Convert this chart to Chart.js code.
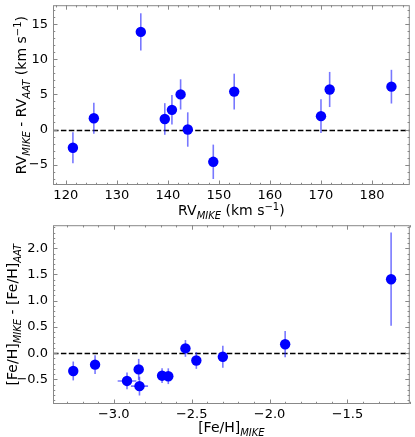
<!DOCTYPE html>
<html>
<head>
<meta charset="utf-8">
<script src="https://cdn.jsdelivr.net/npm/chart.js@4.4.1/dist/chart.umd.min.js"></script>
<style>
  body { margin: 0; background: #fff; }
  #wrap { position: relative; width: 415px; height: 437px; }
  canvas { position: absolute; left: 0; }
</style>
</head>
<body>
<div id="wrap">
  <canvas id="rvChart" width="415" height="220" style="top:0"></canvas>
  <canvas id="fehChart" width="415" height="217" style="top:220px"></canvas>
</div>
<script>
// --- DATA ---
// top panel: radial velocities
const rvMike     = [121.4, 125.5, 134.7, 139.4, 140.8, 142.5, 143.9, 148.9, 153.0, 170.0, 171.7, 183.8];
const rvDiff     = [-2.6, 1.6, 13.9, 1.5, 2.8, 5.0, 0.0, -4.6, 5.4, 1.9, 5.7, 6.1];
const rvDiffErr  = [2.2, 2.2, 2.65, 2.25, 2.1, 2.15, 2.45, 2.45, 2.55, 2.4, 2.5, 2.4];
const rvTicksX   = [120, 130, 140, 150, 160, 170, 180];
const rvTicksY   = [-5, 0, 5, 10, 15];

// bottom panel: metallicities
const fehMike    = [-3.26, -3.12, -2.915, -2.84, -2.835, -2.69, -2.65, -2.54, -2.47, -2.30, -1.90, -1.22];
const fehMikeErr = [0, 0, 0.06, 0, 0.055, 0, 0, 0, 0, 0, 0, 0];
const fehDiff    = [-0.34, -0.22, -0.53, -0.31, -0.63, -0.43, -0.44, 0.09, -0.14, -0.07, 0.17, 1.41];
const fehDiffErr = [0.18, 0.18, 0.16, 0.2, 0.18, 0.14, 0.15, 0.16, 0.16, 0.21, 0.25, 0.89];
const fehTicksX  = [-3.0, -2.5, -2.0, -1.5];
const fehTicksY  = [-0.5, 0.0, 0.5, 1.0, 1.5, 2.0];

const FONT = "'DejaVu Sans', sans-serif";
const fmt = (v, d) => v.toFixed(d).replace('-', '\u2212');

// draws a run of text pieces with sub/superscripts, centred on cx
function drawRich(ctx, parts, cx, baseline) {
    const setFont = p => {
        if (p[1] === 'sub') ctx.font = 'italic 10px ' + FONT;
        else if (p[1] === 'sup') ctx.font = '10px ' + FONT;
        else ctx.font = '14px ' + FONT;
    };
    let total = 0;
    parts.forEach(p => { setFont(p); total += ctx.measureText(p[0]).width; });
    let x = cx - total / 2;
    ctx.textAlign = 'left';
    ctx.textBaseline = 'alphabetic';
    ctx.fillStyle = '#000';
    parts.forEach(p => {
        setFont(p);
        const dy = p[1] === 'sub' ? 3.5 : p[1] === 'sup' ? -5.5 : 0;
        ctx.fillText(p[0], x, baseline + dy);
        x += ctx.measureText(p[0]).width;
    });
}

const axesPlugin = {
    id: 'axes',
    beforeDatasetsDraw(chart, args, o) {
        const { ctx, chartArea: a, scales: { x, y } } = chart;
        ctx.save();
        // dashed zero line
        ctx.strokeStyle = '#000';
        ctx.lineWidth = 1.5;
        ctx.setLineDash([5.5, 2.4]);
        const y0 = Math.round(y.getPixelForValue(0)) + 0.5;
        ctx.beginPath(); ctx.moveTo(a.left, y0); ctx.lineTo(a.right, y0); ctx.stroke();
        ctx.setLineDash([]);
        // error bars
        ctx.strokeStyle = 'rgba(30,30,255,0.6)';
        ctx.lineWidth = 1.6;
        const ds = chart.data.datasets[0].data;
        ds.forEach((p, i) => {
            const px = x.getPixelForValue(p.x), py = y.getPixelForValue(p.y);
            ctx.beginPath();
            ctx.moveTo(px, y.getPixelForValue(p.y - o.yerr[i]));
            ctx.lineTo(px, y.getPixelForValue(p.y + o.yerr[i]));
            if (o.xerr && o.xerr[i]) {
                ctx.moveTo(x.getPixelForValue(p.x - o.xerr[i]), py);
                ctx.lineTo(x.getPixelForValue(p.x + o.xerr[i]), py);
            }
            ctx.stroke();
        });
        ctx.restore();
    },
    afterDraw(chart, args, o) {
        const { ctx, chartArea: a, scales: { x, y } } = chart;
        ctx.save();
        ctx.strokeStyle = '#888';
        ctx.lineWidth = 1;
        ctx.strokeRect(a.left + 0.5, a.top + 0.5, a.right - a.left - 1, a.bottom - a.top - 1);
        // inward ticks on all four sides
        const ticks = (scale, step, majors, len) => {
            const k0 = Math.ceil(scale.min / step - 1e-6), k1 = Math.floor(scale.max / step + 1e-6);
            for (let k = k0; k <= k1; k++) {
                const v = k * step;
                const major = majors.some(m => Math.abs(m - v) < step / 10);
                const l = major ? len : len / 2;
                const p = Math.round(scale.getPixelForValue(v)) + 0.5;
                ctx.beginPath();
                if (scale.isHorizontal()) {
                    ctx.moveTo(p, a.bottom); ctx.lineTo(p, a.bottom - l);
                    ctx.moveTo(p, a.top); ctx.lineTo(p, a.top + l);
                } else {
                    ctx.moveTo(a.left, p); ctx.lineTo(a.left + l, p);
                    ctx.moveTo(a.right, p); ctx.lineTo(a.right - l, p);
                }
                ctx.stroke();
            }
        };
        ticks(x, o.xMinor, o.xMajors, 4.5);
        ticks(y, o.yMinor, o.yMajors, 4.5);
        // axis titles
        drawRich(ctx, o.xTitle, (a.left + a.right) / 2, o.xTitleY);
        ctx.translate(o.yTitleX, (a.top + a.bottom) / 2);
        ctx.rotate(-Math.PI / 2);
        drawRich(ctx, o.yTitle, 0, 0);
        ctx.restore();
    }
};

function makeChart(id, xs, ys, cfg) {
    const pts = xs.map((v, i) => ({ x: v, y: ys[i] }));
    const tickFont = { family: FONT, size: 13 };
    return new Chart(document.getElementById(id), {
        type: 'scatter',
        data: {
            datasets: [{
                data: pts,
                backgroundColor: '#0000ff',
                borderColor: '#0000ff',
                borderWidth: 0,
                pointRadius: 5.2,
                pointHoverRadius: 5.2
            }]
        },
        options: {
            responsive: false,
            animation: false,
            devicePixelRatio: 1,
            layout: { padding: { top: 2, right: 3, left: 0, bottom: 0 } },
            plugins: {
                legend: { display: false },
                tooltip: { enabled: false },
                axes: cfg.axes
            },
            scales: {
                x: {
                    type: 'linear', min: cfg.xMin, max: cfg.xMax,
                    grid: { display: false, drawTicks: false },
                    border: { display: false },
                    afterBuildTicks: s => { s.ticks = cfg.xTicks.map(v => ({ value: v })); },
                    afterFit: s => {
                        s.height = cfg.xAxisH;
                        s.paddingLeft = 0; s.paddingRight = 0;
                    },
                    ticks: { callback: v => fmt(v, cfg.xDec), font: tickFont, color: '#000', padding: 3, maxRotation: 0, autoSkip: false }
                },
                y: {
                    type: 'linear', min: cfg.yMin, max: cfg.yMax,
                    grid: { display: false, drawTicks: false },
                    border: { display: false },
                    afterBuildTicks: s => { s.ticks = cfg.yTicks.map(v => ({ value: v })); },
                    afterFit: s => {
                        s.width = 53;
                        s.paddingTop = 0; s.paddingBottom = 0;
                    },
                    ticks: { callback: v => fmt(v, cfg.yDec), font: tickFont, color: '#000', padding: 5, autoSkip: false }
                }
            }
        },
        plugins: [axesPlugin]
    });
}

makeChart('rvChart', rvMike, rvDiff, {
    xMin: 117.5, xMax: 187.4, yMin: -7.9, yMax: 17.7,
    xTicks: rvTicksX, yTicks: rvTicksY, xDec: 0, yDec: 0, xAxisH: 35,
    axes: {
        yerr: rvDiffErr,
        xMinor: 2, xMajors: rvTicksX, yMinor: 1, yMajors: rvTicksY,
        xTitle: [['RV', 'n'], ['MIKE', 'sub'], [' (km s', 'n'], ['\u22121', 'sup'], [')', 'n']],
        xTitleY: 215,
        yTitle: [['RV', 'n'], ['MIKE', 'sub'], [' - RV', 'n'], ['AAT', 'sub'], [' (km s', 'n'], ['\u22121', 'sup'], [')', 'n']],
        yTitleX: 26
    }
});

makeChart('fehChart', fehMike, fehDiff, {
    xMin: -3.39, xMax: -1.10, yMin: -0.97, yMax: 2.44,
    xTicks: fehTicksX, yTicks: fehTicksY, xDec: 1, yDec: 1, xAxisH: 33,
    axes: {
        yerr: fehDiffErr, xerr: fehMikeErr,
        xMinor: 0.1, xMajors: fehTicksX, yMinor: 0.1, yMajors: fehTicksY,
        xTitle: [['[Fe/H]', 'n'], ['MIKE', 'sub']],
        xTitleY: 212,
        yTitle: [['[Fe/H]', 'n'], ['MIKE', 'sub'], [' - [Fe/H]', 'n'], ['AAT', 'sub']],
        yTitleX: 17
    }
});
</script>
</body>
</html>
